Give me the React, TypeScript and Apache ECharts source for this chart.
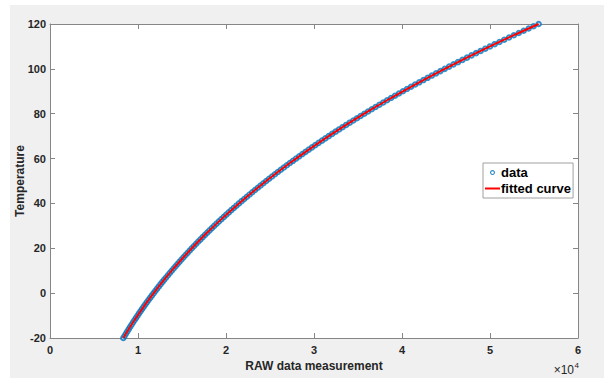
import React, { useEffect, useRef } from "react";
import * as echarts from "echarts";

// Temperature values (y) of the measured points
const temperatures = [
  -20, -19, -18, -17, -16, -15, -14, -13, -12, -11,
  -10, -9, -8, -7, -6, -5, -4, -3, -2, -1,
  0, 1, 2, 3, 4, 5, 6, 7, 8, 9,
  10, 11, 12, 13, 14, 15, 16, 17, 18, 19,
  20, 21, 22, 23, 24, 25, 26, 27, 28, 29,
  30, 31, 32, 33, 34, 35, 36, 37, 38, 39,
  40, 41, 42, 43, 44, 45, 46, 47, 48, 49,
  50, 51, 52, 53, 54, 55, 56, 57, 58, 59,
  60, 61, 62, 63, 64, 65, 66, 67, 68, 69,
  70, 71, 72, 73, 74, 75, 76, 77, 78, 79,
  80, 81, 82, 83, 84, 85, 86, 87, 88, 89,
  90, 91, 92, 93, 94, 95, 96, 97, 98, 99,
  100, 101, 102, 103, 104, 105, 106, 107, 108, 109,
  110, 111, 112, 113, 114, 115, 116, 117, 118, 119,
  120,
];

const rawValues = [
  8330, 8483, 8638, 8795, 8954, 9115, 9278, 9443, 9610, 9779,
  9949, 10122, 10297, 10475, 10654, 10836, 11020, 11206, 11395, 11585,
  11778, 11973, 12170, 12369, 12571, 12775, 12981, 13190, 13401, 13614,
  13829, 14047, 14267, 14490, 14715, 14943, 15173, 15406, 15641, 15879,
  16119, 16362, 16607, 16855, 17106, 17359, 17615, 17873, 18134, 18397,
  18663, 18932, 19203, 19477, 19754, 20034, 20316, 20601, 20889, 21180,
  21474, 21770, 22069, 22371, 22676, 22984, 23295, 23609, 23926, 24246,
  24568, 24894, 25222, 25554, 25889, 26227, 26568, 26912, 27259, 27609,
  27962, 28318, 28678, 29041, 29407, 29776, 30149, 30525, 30904, 31286,
  31672, 32061, 32453, 32849, 33248, 33650, 34056, 34465, 34878, 35294,
  35713, 36136, 36562, 36992, 37426, 37863, 38303, 38748, 39195, 39646,
  40101, 40560, 41022, 41488, 41958, 42432, 42909, 43390, 43875, 44364,
  44856, 45353, 45853, 46357, 46865, 47377, 47893, 48413, 48937, 49465,
  49996, 50531, 51070, 51613, 52160, 52711, 53266, 53825, 54388, 54955,
  55526,
];

const seriesNames = ["data", "fitted curve"];
const xAxisTitle = "RAW data measurement";
const yAxisTitle = "Temperature";
const xExponentBase = "×10";
const xExponent = "4";

const AXIS_COLOR = "#868686";
const LABEL_COLOR = "#262626";
const FONT = "'Liberation Sans', Arial, Helvetica, sans-serif";

export default function App() {
  const ref = useRef<HTMLDivElement>(null);

  useEffect(() => {
    if (!ref.current) return;
    const chart = echarts.init(ref.current, undefined, { renderer: "svg" });
    const points = rawValues.map((r, i) => [r, temperatures[i]]);

    const xBase = {
      type: "value" as const,
      min: 0,
      max: 60000,
      interval: 10000,
      splitLine: { show: false },
      axisLine: { show: true, onZero: false, lineStyle: { color: AXIS_COLOR, width: 1 } },
      axisTick: { show: true, inside: true, length: 5, lineStyle: { color: AXIS_COLOR } },
    };
    const yBase = {
      type: "value" as const,
      min: -20,
      max: 120,
      interval: 20,
      splitLine: { show: false },
      axisLine: { show: true, onZero: false, lineStyle: { color: AXIS_COLOR, width: 1 } },
      axisTick: { show: true, inside: true, length: 5, lineStyle: { color: AXIS_COLOR } },
    };

    chart.setOption({
      animation: false,
      backgroundColor: "#f0f0f0",
      textStyle: { fontFamily: FONT },
      grid: {
        left: 40,
        top: 19,
        width: 528,
        height: 314,
        show: true,
        backgroundColor: "#ffffff",
        borderWidth: 0,
        containLabel: false,
        outerBoundsMode: "none",
      },
      xAxis: [
        {
          ...xBase,
          position: "bottom",
          name: xAxisTitle,
          nameLocation: "middle",
          nameGap: 22,
          nameMoveOverlap: false,
          nameTextStyle: { fontFamily: FONT, fontSize: 12, fontWeight: "bold", color: LABEL_COLOR },
          axisLabel: {
            show: true,
            margin: 6,
            fontFamily: FONT,
            fontSize: 11,
            fontWeight: "bold",
            color: LABEL_COLOR,
            formatter: (v: number) => String(v / 10000),
          },
        },
        {
          ...xBase,
          position: "top",
          axisLabel: { show: false },
        },
      ],
      yAxis: [
        {
          ...yBase,
          position: "left",
          name: yAxisTitle,
          nameLocation: "middle",
          nameGap: 24,
          nameMoveOverlap: false,
          nameTextStyle: { fontFamily: FONT, fontSize: 12, fontWeight: "bold", color: LABEL_COLOR },
          axisLabel: {
            show: true,
            margin: 4,
            fontFamily: FONT,
            fontSize: 11,
            fontWeight: "bold",
            color: LABEL_COLOR,
          },
        },
        {
          ...yBase,
          position: "right",
          axisLabel: { show: false },
        },
      ],
      legend: {
        orient: "vertical",
        left: 473,
        top: 158,
        padding: [3, 2, 3, 2],
        itemGap: 3,
        itemWidth: 15,
        itemHeight: 5,
        backgroundColor: "#ffffff",
        borderColor: "#a0a0a0",
        borderWidth: 1,
        borderRadius: 0,
        textStyle: {
          fontFamily: FONT,
          fontSize: 13,
          fontWeight: "bold",
          color: "#000",
          padding: [0, 0, 0, -4],
        },
        data: [
          {
            name: seriesNames[0],
            icon: "path://M2,0 A2,2 0 1 1 1.99,0 Z M2,0.9 A1.1,1.1 0 1 0 2.01,0.9 Z",
            itemStyle: { color: "#0072BD", borderWidth: 0 },
          },
          {
            name: seriesNames[1],
            icon: "path://M0,0 L15,0 L15,2 L0,2 Z",
            itemStyle: { color: "#ff0000", borderWidth: 0 },
          },
        ],
      },
      graphic: [
        {
          type: "text",
          x: 564,
          y: 364.5,
          style: {
            text: xExponentBase,
            fontFamily: FONT,
            fontSize: 12,
            fill: LABEL_COLOR,
            align: "right",
            verticalAlign: "middle",
          },
        },
        {
          type: "text",
          x: 564.5,
          y: 360.5,
          style: {
            text: xExponent,
            fontFamily: FONT,
            fontSize: 8,
            fill: LABEL_COLOR,
            align: "left",
            verticalAlign: "middle",
          },
        },
      ],
      series: [
        {
          name: seriesNames[0],
          type: "scatter",
          xAxisIndex: 0,
          yAxisIndex: 0,
          data: points,
          symbol: "emptyCircle",
          symbolSize: 4.5,
          itemStyle: { color: "#0072BD", borderColor: "#0072BD", borderWidth: 1 },
          z: 2,
        },
        {
          name: seriesNames[1],
          type: "line",
          xAxisIndex: 0,
          yAxisIndex: 0,
          data: points,
          symbol: "none",
          showSymbol: false,
          lineStyle: { color: "#ff0000", width: 2 },
          itemStyle: { color: "#ff0000" },
          z: 3,
        },
      ],
    });

    return () => chart.dispose();
  }, []);

  return (
    <div style={{ position: "fixed", left: 0, top: 0, width: 604, height: 378, background: "#ffffff" }}>
      <div ref={ref} style={{ position: "absolute", left: 10, top: 5, width: 594, height: 373 }} />
    </div>
  );
}
